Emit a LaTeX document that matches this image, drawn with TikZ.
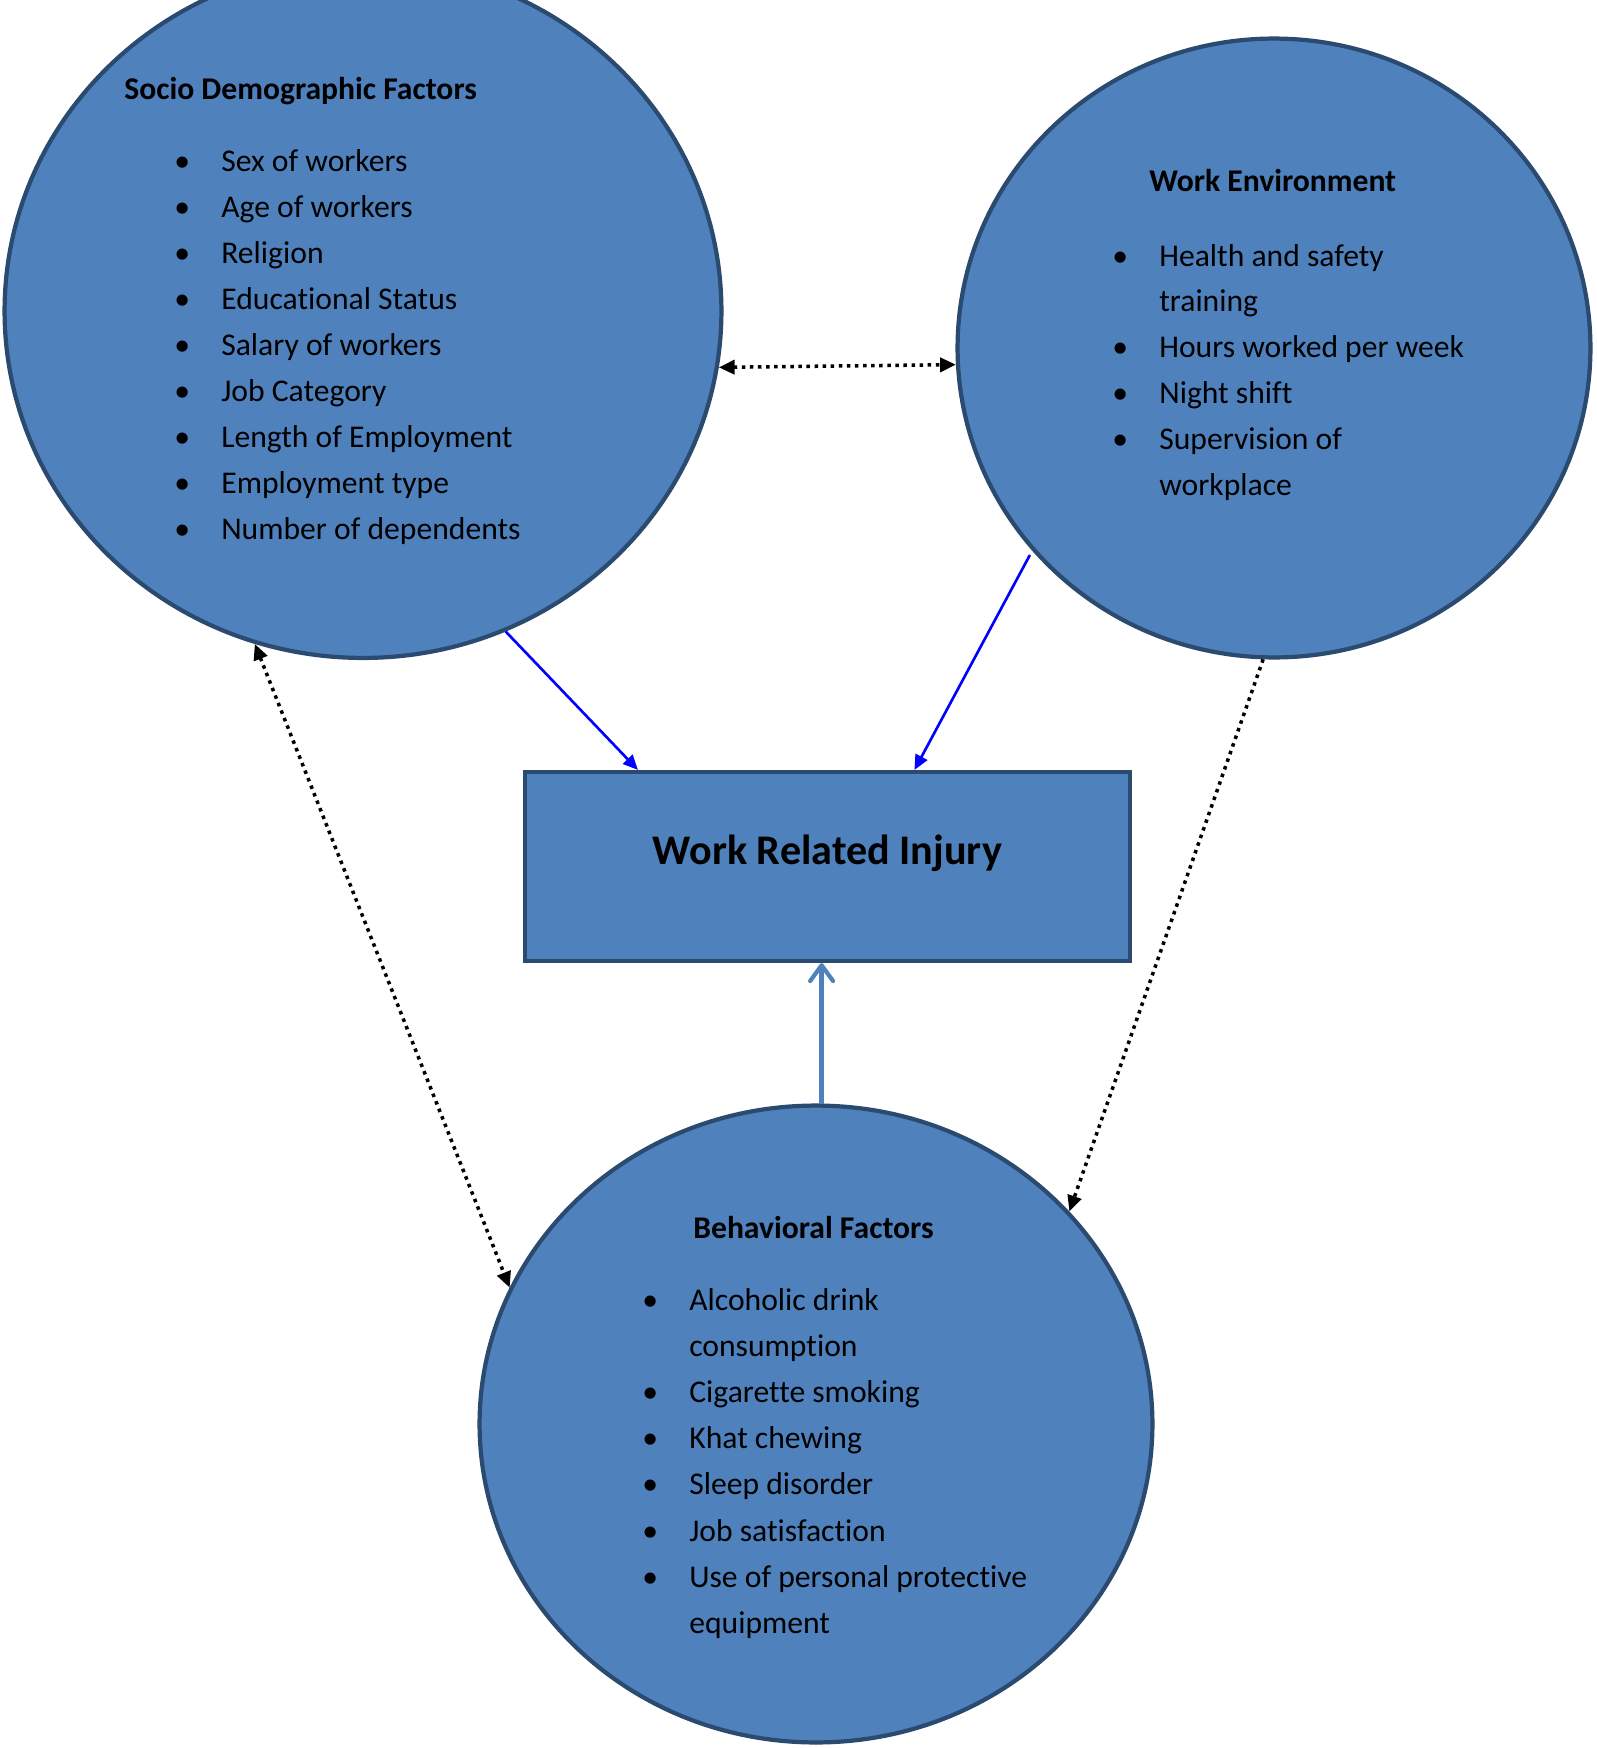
\documentclass[tikz,border=0pt]{standalone}
\usepackage{fontspec}
\setmainfont{Carlito}[Ligatures={NoCommon,NoContextual,NoRare}]
\usetikzlibrary{shapes.geometric,arrows.meta}

\definecolor{factorblue}{HTML}{4F81BD}
\definecolor{factorline}{HTML}{2A4A6F}
\definecolor{linkblue}{HTML}{0000FF}

\newcommand{\bul}{\makebox[0.94cm][l]{\textbullet}}
\newcommand{\gap}{\hspace*{0.94cm}}

\tikzset{
  factor/.style={ellipse, draw=factorline, fill=factorblue, line width=2.4pt, inner sep=0pt},
  head/.style={anchor=base west, inner sep=0pt, font=\fontsize{18}{22}\selectfont\bfseries},
  item/.style={anchor=base west, inner sep=0pt, font=\fontsize{18}{22}\selectfont},
  influence/.style={draw=linkblue, line width=1.5pt, -{Triangle[length=8.5pt,width=7.5pt]}},
  uplink/.style={draw=factorblue, line width=2.4pt, -{Straight Barb[length=9pt,width=13pt,round]}},
  relates/.style={line width=2pt, dash pattern=on 2pt off 2.6pt, >={Triangle[length=9pt,width=8pt]}},
}

\begin{document}
\begin{tikzpicture}[x=0.02cm, y=-0.02cm]
    \useasboundingbox (0,0) rectangle (1596,1748);

    % factor circles
    \node[factor, minimum width=14.34cm, minimum height=13.88cm] (socio) at (363,311) {};
    \node[factor, minimum width=12.66cm, minimum height=12.38cm] (workenv) at (1274,348) {};
    \node[factor, minimum width=13.46cm, minimum height=12.74cm] (behav) at (816,1424) {};

    % outcome box
    \node[draw=factorline, fill=factorblue, line width=2.4pt, minimum width=12.1cm, minimum height=3.78cm,
          font=\fontsize{24}{28}\selectfont\bfseries, text height=0.6cm, text depth=0.67cm] (wri) at (827.5,866.5) {Work Related Injury};

    % socio demographic
    \node[head] (sociohead) at (124,99) {Socio Demographic Factors};
    \foreach \t [count=\i] in {Sex of workers, Age of workers, Religion, Educational Status, Salary of workers,
                               Job Category, Length of Employment, Employment type, Number of dependents}
        \node[item] (socio\i) at (174,{171+46.1*(\i-1)}) {\bul\t};

    % work environment
    \node[head] (envhead) at (1149,191) {Work Environment};
    \foreach \t [count=\i] in {\bul Health and safety, \gap training, \bul Hours worked per week, \bul Night shift,
                               \bul Supervision of, \gap workplace}
        \node[item] (env\i) at (1112,{266+45.8*(\i-1)}) {\t};

    % behavioral
    \node[head] (behavhead) at (693,1238) {Behavioral Factors};
    \foreach \t [count=\i] in {\bul Alcoholic drink, \gap consumption, \bul Cigarette smoking, \bul Khat chewing,
                               \bul Sleep disorder, \bul Job satisfaction, \bul Use of personal protective, \gap equipment}
        \node[item] (behav\i) at (642,{1310+46.2*(\i-1)}) {\t};

    % connectors
    \draw[influence] (socio.-66.2) -- (wri.153.7);
    \draw[influence] ([xshift=-0.12cm]workenv.-139.9) -- (wri.48.1);
    \draw[uplink] (behav.89) -- (behav.89 |- wri.south);
    \draw[relates, <->] (socio.-9.5) -- (workenv.-177.5);
    \draw[relates, <->] (socio.-108.3) -- (behav.156.8);
    \draw[relates, ->] (workenv.-92.7) -- (behav.40.9);
\end{tikzpicture}
\end{document}
